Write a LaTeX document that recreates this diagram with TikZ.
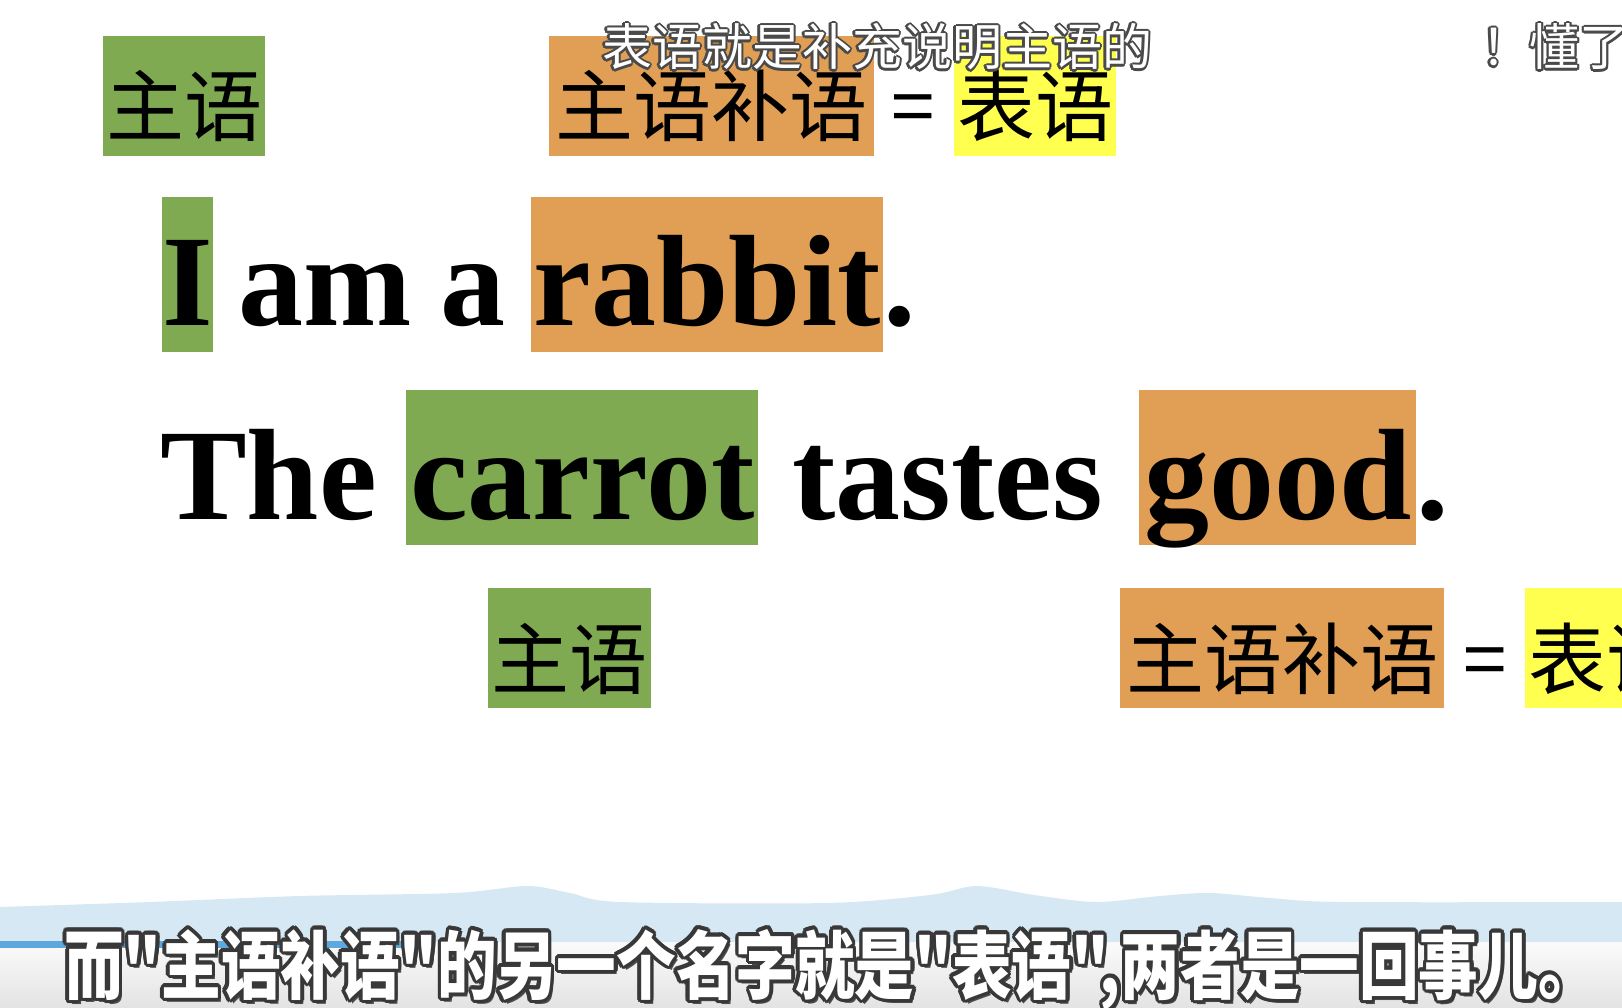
\documentclass[tikz,border=0pt]{standalone}
\usepackage{graphicx}
\usepackage{fontspec}
\setmainfont{Liberation Serif}
\newfontfamily\cjk{Noto Sans CJK SC}
\usepackage{xcolor}
\usepackage{tikz}

\definecolor{hlgreen}{HTML}{80AA52}
\definecolor{hlorange}{HTML}{E09F55}
\definecolor{hlyellow}{HTML}{FFFF50}
\definecolor{hillblue}{HTML}{D6E8F3}
\definecolor{barblue}{HTML}{5DA8DC}
\definecolor{subedge}{HTML}{4A4A4A}
\definecolor{lowedge}{HTML}{383838}

\newcommand\sublowtext{\scalebox{1.028}[1.28]{而"主语补语"的另一个名字就是"表语",两者是一回事儿。}}

\tikzset{
  zhlabel/.style={font=\cjk\fontsize{78}{80}\selectfont, inner sep=0pt,
    text height=100pt, text depth=20pt, anchor=base west},
  zheq/.style={font=\cjk\fontsize{78}{80}\selectfont, inner sep=0pt, anchor=base},
  enword/.style={font=\bfseries\fontsize{130}{130}\selectfont, inner sep=0pt, anchor=base west},
  enbox/.style={enword, text height=129pt, text depth=26pt},
  subtop/.style={font=\cjk\fontsize{50}{52}\selectfont, inner sep=0pt, anchor=base},
  sublow/.style={font=\cjk\bfseries\fontsize{58}{60}\selectfont, inner sep=0pt, anchor=base},
}

\begin{document}
\begin{tikzpicture}[x=1pt,y=-1pt]
\useasboundingbox (0,0) rectangle (1622,1008);
\clip (0,0) rectangle (1622,1008);
\fill[white] (0,0) rectangle (1622,1008);

% labels over the first sentence
\node[zhlabel, fill=hlgreen, minimum width=162pt] (subjtop) at (103,136) {主语};
\node[zhlabel, fill=hlorange, minimum width=325pt] (comptop) at (549,136) {主语补语};
\node[zheq] (eqtop) at (913,136) {=};
\node[zhlabel, fill=hlyellow, minimum width=162pt] (predtop) at (954,136) {表语};

% I am a rabbit.
\node[enbox, fill=hlgreen, minimum width=47pt] (I) at (162,326) {I};
\node[enword] (am) at (238,326) {am};
\node[enword] (a) at (440,326) {a};
\node[enbox, fill=hlorange, minimum width=352pt] (rabbit) at (531,326) {rabbit};
\node[enword] (dotone) at (rabbit.base east) {.};

% The carrot tastes good.
\node[enword] (the) at (160,519) {The};
\node[enbox, fill=hlgreen, minimum width=352pt] (carrot) at (406,519) {carrot};
\node[enword] (tastes) at (792,519) {tastes};
\node[enbox, fill=hlorange, minimum width=277pt] (good) at (1139,519) {good};
\node[enword] (dottwo) at (good.base east) {.};

% labels under the second sentence
\node[zhlabel, fill=hlgreen, minimum width=163pt] (subjlow) at (488,688) {主语};
\node[zhlabel, fill=hlorange, minimum width=324pt] (complow) at (1120,688) {主语补语};
\node[zheq] (eqlow) at (1485,688) {=};
\node[zhlabel, fill=hlyellow, minimum width=162pt] (predlow) at (1525,688) {表语};

% player band
\shade[top color=white!97!gray, bottom color=gray!22] (0,941) rectangle (1622,1008);
\fill[hillblue] plot[smooth] coordinates {(0,907) (150,902) (300,896) (455,893) (527,886)
  (570,893) (620,902) (827,903) (930,895) (977,886) (1034,895) (1096,902) (1160,896)
  (1210,893) (1270,898) (1344,902) (1622,902)} -- (1622,942) -- (0,942) -- cycle;
\fill[barblue] (0,941) rectangle (405,948);

% subtitles
\foreach \a in {0,30,...,330} {
  \node[subtop, text=subedge] at ([shift={(\a:2.2)}]877,66) {表语就是补充说明主语的};
  \node[subtop, text=subedge] at ([shift={(\a:2.2)}]1506,66) {！};
  \node[subtop, text=subedge, anchor=base west] at ([shift={(\a:2.2)}]1529,66) {懂了};
}
\node[subtop, text=white] (subtop) at (877,66) {表语就是补充说明主语的};
\node[subtop, text=white] (bang) at (1506,66) {！};
\node[subtop, text=white, anchor=base west] (dong) at (1529,66) {懂了};

\node[sublow, text=black!70] at (834,997) {\sublowtext};
\foreach \a in {0,22.5,...,337.5}
  \node[sublow, text=lowedge] at ([shift={(\a:3.5)}]831,993) {\sublowtext};
\node[sublow, text=white] (sublow) at (831,993) {\sublowtext};
\end{tikzpicture}
\end{document}
